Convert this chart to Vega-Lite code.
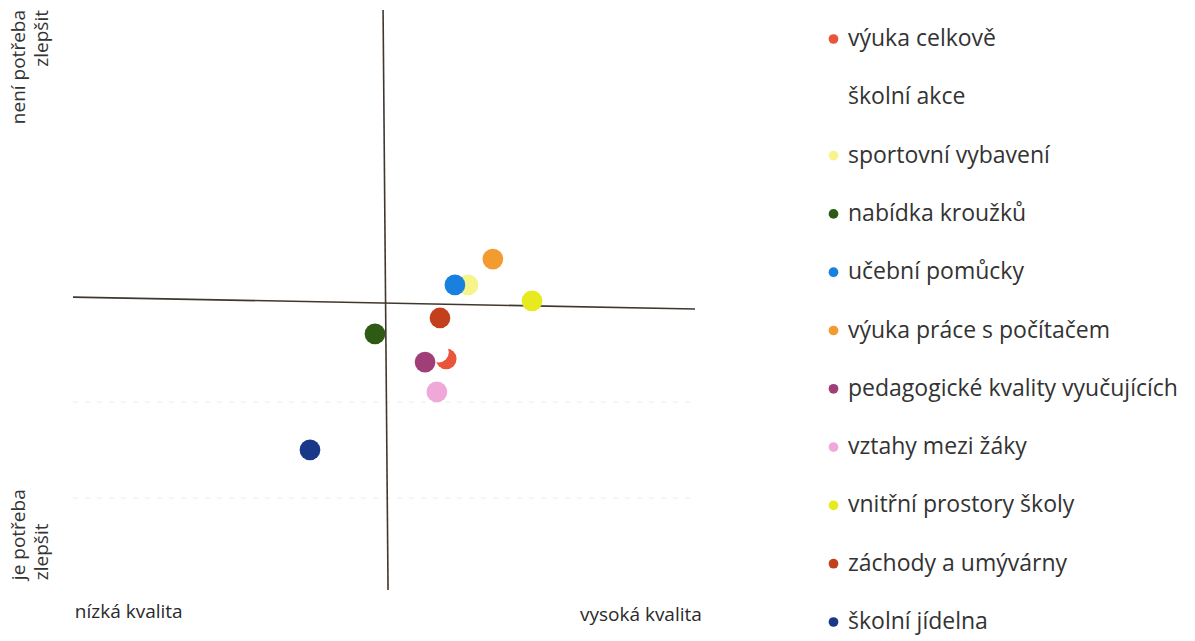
{
  "$schema": "https://vega.github.io/schema/vega-lite/v6.json",
  "width": 622,
  "height": 580,
  "autosize": "none",
  "padding": {"left": 73, "top": 10, "right": 500, "bottom": 51},
  "background": "white",
  "config": {"view": {"stroke": null}, "font": "Open Sans"},
  "datasets": {
    "points": [
      {"oblast": "výuka celkově", "kvalita": 2.0, "potreba": -2.03},
      {"oblast": "školní akce", "kvalita": 1.75, "potreba": -1.8},
      {"oblast": "sportovní vybavení", "kvalita": 2.7, "potreba": 0.52},
      {"oblast": "nabídka kroužků", "kvalita": -0.29, "potreba": -1.17},
      {"oblast": "učební pomůcky", "kvalita": 2.28, "potreba": 0.52},
      {"oblast": "výuka práce s počítačem", "kvalita": 3.5, "potreba": 1.41},
      {"oblast": "pedagogické kvality vyučujících", "kvalita": 1.32, "potreba": -2.14},
      {"oblast": "vztahy mezi žáky", "kvalita": 1.7, "potreba": -3.17},
      {"oblast": "vnitřní prostory školy", "kvalita": 4.76, "potreba": -0.03},
      {"oblast": "záchody a umývárny", "kvalita": 1.8, "potreba": -0.62},
      {"oblast": "školní jídelna", "kvalita": -2.38, "potreba": -5.17}
    ],
    "grid": [
      {"kvalita": -10, "potreba": -3.52, "kvalita2": 10, "potreba2": -3.52},
      {"kvalita": -10, "potreba": -6.83, "kvalita2": 10, "potreba2": -6.83}
    ],
    "axes": [
      {"kvalita": -10, "potreba": 0.1, "kvalita2": 10, "potreba2": -0.31},
      {"kvalita": -0.03, "potreba": 10, "kvalita2": 0.13, "potreba2": -10}
    ],
    "topLabels": [
      {"t": "není potřeba", "kvalita": -11.75, "potreba": 10},
      {"t": "zlepšit", "kvalita": -11.0, "potreba": 10}
    ],
    "bottomLabels": [
      {"t": "je potřeba", "kvalita": -11.75, "potreba": -9.66},
      {"t": "zlepšit", "kvalita": -11.0, "potreba": -9.66}
    ],
    "xLabels": [
      {"t": "nízká kvalita", "kvalita": -9.94, "potreba": -10.76},
      {"t": "vysoká kvalita", "kvalita": 6.3, "potreba": -10.86}
    ]
  },
  "layer": [
    {
      "data": {"name": "grid"},
      "mark": {"type": "rule", "color": "#ececec", "strokeWidth": 1, "strokeDash": [5, 7]},
      "encoding": {
        "x": {"field": "kvalita", "type": "quantitative", "scale": {"domain": [-10, 10]}, "axis": null},
        "y": {"field": "potreba", "type": "quantitative", "scale": {"domain": [-10, 10]}, "axis": null},
        "x2": {"field": "kvalita2"},
        "y2": {"field": "potreba2"}
      }
    },
    {
      "data": {"name": "axes"},
      "mark": {"type": "rule", "color": "#40372e", "strokeWidth": 1.6},
      "encoding": {
        "x": {"field": "kvalita", "type": "quantitative"},
        "y": {"field": "potreba", "type": "quantitative"},
        "x2": {"field": "kvalita2"},
        "y2": {"field": "potreba2"}
      }
    },
    {
      "data": {"name": "points"},
      "mark": {"type": "point", "shape": "circle", "filled": true, "opacity": 1, "size": 430},
      "encoding": {
        "x": {"field": "kvalita", "type": "quantitative"},
        "y": {"field": "potreba", "type": "quantitative"},
        "color": {
          "field": "oblast",
          "type": "nominal",
          "scale": {
            "domain": ["výuka celkově", "školní akce", "sportovní vybavení", "nabídka kroužků", "učební pomůcky", "výuka práce s počítačem", "pedagogické kvality vyučujících", "vztahy mezi žáky", "vnitřní prostory školy", "záchody a umývárny", "školní jídelna"],
            "range": ["#e8553a", "#ffffff", "#f6f48a", "#2e5a16", "#1a80e0", "#f39a30", "#a03e78", "#f0a8d8", "#e6ea1e", "#c2401c", "#1a3888"]
          },
          "legend": {
            "title": null,
            "orient": "none",
            "legendX": 749,
            "legendY": 17.5,
            "symbolType": "circle",
            "symbolSize": 95,
            "symbolStrokeWidth": 0,
            "symbolOpacity": 1,
            "labelFontSize": 23,
            "labelColor": "#333333",
            "labelOffset": 3,
            "rowPadding": 34.3,
            "padding": 0,
            "labelLimit": 500
          }
        }
      }
    },
    {
      "data": {"name": "topLabels"},
      "mark": {"type": "text", "angle": 270, "align": "right", "baseline": "middle", "fontSize": 19, "color": "#333333", "clip": false},
      "encoding": {
        "x": {"field": "kvalita", "type": "quantitative"},
        "y": {"field": "potreba", "type": "quantitative"},
        "text": {"field": "t"}
      }
    },
    {
      "data": {"name": "bottomLabels"},
      "mark": {"type": "text", "angle": 270, "align": "left", "baseline": "middle", "fontSize": 19, "color": "#333333", "clip": false},
      "encoding": {
        "x": {"field": "kvalita", "type": "quantitative"},
        "y": {"field": "potreba", "type": "quantitative"},
        "text": {"field": "t"}
      }
    },
    {
      "data": {"name": "xLabels"},
      "mark": {"type": "text", "align": "left", "baseline": "middle", "fontSize": 19, "color": "#2a2a2a", "clip": false},
      "encoding": {
        "x": {"field": "kvalita", "type": "quantitative"},
        "y": {"field": "potreba", "type": "quantitative"},
        "text": {"field": "t"}
      }
    }
  ]
}
